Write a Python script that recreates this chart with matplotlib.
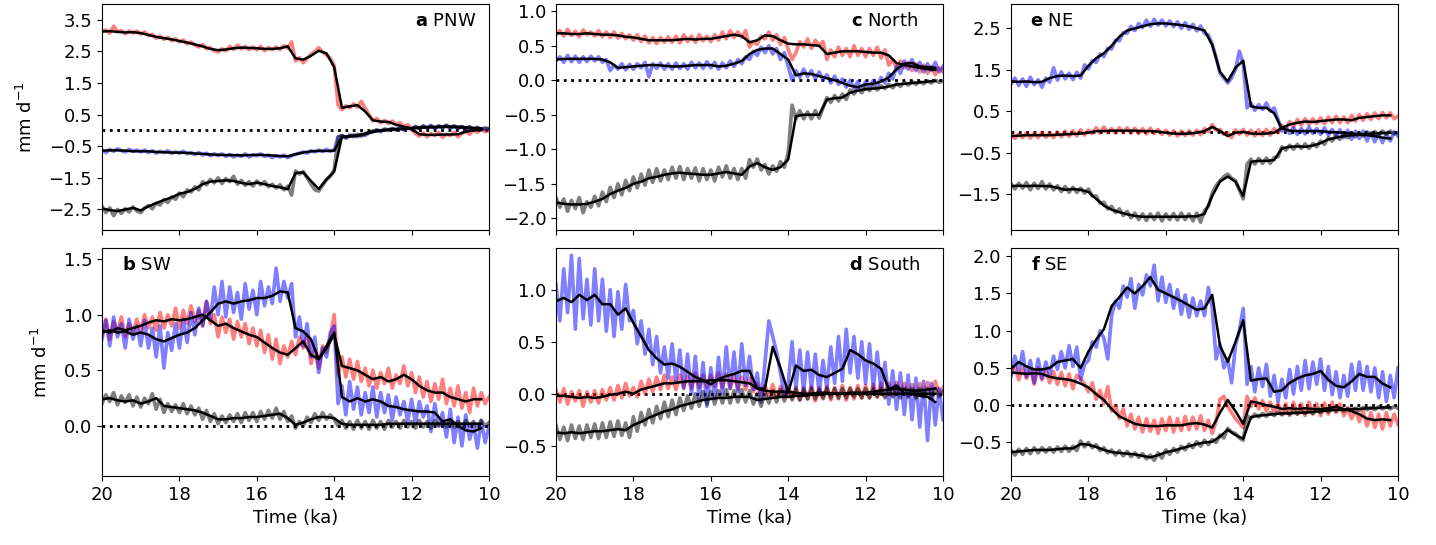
import numpy as np
import matplotlib
matplotlib.use("Agg")
import matplotlib.pyplot as plt

plt.rcParams['font.family'] = ['DejaVu Sans']
plt.rcParams['font.size'] = 13

# time axes (ka)
t_raw = np.linspace(20.0, 10.0, 101)      # 0.1 ka steps
t_smooth = np.linspace(20.0, 10.2, 50)    # 0.2 ka steps

# ---------------- panel a: PNW ----------------
a_red_raw = [3.12, 3.18, 3.08, 3.30, 3.12, 3.16, 3.06, 3.15, 3.08, 3.14,
             3.05, 3.12, 3.00, 3.04, 2.92, 2.98, 2.88, 2.95, 2.84, 2.90,
             2.80, 2.86, 2.74, 2.80, 2.70, 2.64, 2.72, 2.58, 2.62, 2.52,
             2.48, 2.58, 2.52, 2.66, 2.56, 2.70, 2.58, 2.66, 2.56, 2.64,
             2.55, 2.66, 2.52, 2.62, 2.55, 2.64, 2.56, 2.68, 2.60, 2.80,
             2.20, 2.30, 2.14, 2.28, 2.40, 2.50, 2.62, 2.48, 2.38, 2.28,
             2.05, 0.80, 0.66, 0.78, 0.72, 0.84, 0.74, 0.92, 0.70, 0.50,
             0.30, 0.38, 0.24, 0.32, 0.22, 0.30, 0.18, 0.24, 0.12, 0.18,
             0.04, -0.10, -0.18, -0.08, -0.20, -0.10, -0.16, -0.06, -0.22, -0.12,
             -0.16, -0.06, -0.20, -0.10, -0.02, -0.12, 0.02, -0.06, 0.04, -0.04,
             0.00]
a_blue_raw = [-0.62, -0.70, -0.60, -0.66, -0.58, -0.64, -0.68, -0.60, -0.66, -0.62,
              -0.68, -0.62, -0.70, -0.64, -0.72, -0.66, -0.70, -0.64, -0.72, -0.68,
              -0.72, -0.66, -0.74, -0.70, -0.76, -0.70, -0.78, -0.72, -0.80, -0.74,
              -0.80, -0.74, -0.82, -0.76, -0.84, -0.78, -0.82, -0.74, -0.84, -0.78,
              -0.80, -0.74, -0.82, -0.78, -0.86, -0.80, -0.84, -0.78, -0.86, -0.80,
              -0.76, -0.72, -0.68, -0.72, -0.64, -0.68, -0.62, -0.66, -0.60, -0.66,
              -0.62, -0.20, -0.16, -0.24, -0.18, -0.14, -0.20, -0.12, -0.16, -0.08,
              -0.04, 0.00, -0.04, 0.04, 0.00, 0.06, 0.02, 0.08, 0.02, 0.08,
              0.04, 0.12, 0.06, 0.14, 0.08, 0.16, 0.06, 0.14, 0.08, 0.16,
              0.08, 0.14, 0.06, 0.12, 0.04, 0.10, 0.02, 0.08, 0.02, 0.06,
              0.04]
a_gray_raw = [-2.40, -2.60, -2.45, -2.70, -2.50, -2.62, -2.48, -2.58, -2.42, -2.55,
              -2.60, -2.45, -2.38, -2.48, -2.30, -2.36, -2.20, -2.28, -2.10, -2.18,
              -1.98, -2.10, -1.88, -1.95, -1.78, -1.88, -1.62, -1.72, -1.55, -1.66,
              -1.50, -1.68, -1.52, -1.62, -1.45, -1.70, -1.58, -1.74, -1.62, -1.76,
              -1.60, -1.72, -1.62, -1.78, -1.70, -1.82, -1.72, -1.88, -1.76, -2.05,
              -1.28, -1.38, -1.30, -1.50, -1.70, -1.88, -1.92, -1.74, -1.56, -1.45,
              -1.25, -0.22, -0.16, -0.24, -0.14, -0.20, -0.12, -0.18, -0.10, -0.06,
              -0.02, 0.02, -0.02, 0.04, 0.02, 0.06, 0.02, 0.08, 0.04, 0.08,
              0.06, 0.12, 0.06, 0.14, 0.08, 0.14, 0.08, 0.14, 0.10, 0.16,
              0.08, 0.14, 0.08, 0.12, 0.06, 0.12, 0.04, 0.10, 0.04, 0.08,
              0.06]
a_red_smooth = [3.13, 3.14, 3.12, 3.10, 3.11, 3.08, 3.02, 2.96, 2.92, 2.88,
                2.83, 2.78, 2.72, 2.66, 2.58, 2.54, 2.56, 2.60, 2.62, 2.61,
                2.60, 2.58, 2.58, 2.60, 2.66, 2.28, 2.24, 2.36, 2.52, 2.44,
                2.00, 0.72, 0.76, 0.80, 0.60, 0.32, 0.28, 0.27, 0.18, 0.12,
                0.05, -0.12, -0.14, -0.14, -0.13, -0.13, -0.12, -0.04, 0.00, 0.02]
a_blue_smooth = [-0.64, -0.63, -0.63, -0.64, -0.66, -0.66, -0.66, -0.68, -0.69, -0.70,
                 -0.70, -0.71, -0.73, -0.74, -0.76, -0.77, -0.78, -0.78, -0.79, -0.78,
                 -0.77, -0.78, -0.79, -0.81, -0.82, -0.75, -0.70, -0.66, -0.65, -0.65,
                 -0.64, -0.20, -0.19, -0.17, -0.12, -0.05, 0.00, 0.02, 0.04, 0.05,
                 0.07, 0.08, 0.10, 0.10, 0.11, 0.11, 0.10, 0.08, 0.06, 0.05]
a_gray_smooth = [-2.47, -2.52, -2.55, -2.50, -2.45, -2.53, -2.40, -2.30, -2.20, -2.12,
                 -2.00, -1.95, -1.85, -1.70, -1.62, -1.60, -1.58, -1.60, -1.66, -1.70,
                 -1.65, -1.70, -1.76, -1.80, -1.86, -1.35, -1.33, -1.60, -1.85, -1.55,
                 -1.30, -0.20, -0.18, -0.15, -0.10, -0.03, 0.00, 0.02, 0.04, 0.05,
                 0.07, 0.09, 0.10, 0.11, 0.12, 0.12, 0.12, 0.10, 0.08, 0.06]

# ---------------- panel b: SW ----------------
b_red_raw = [0.82, 0.96, 0.78, 0.94, 0.84, 0.98, 0.80, 0.92, 0.84, 0.96,
             0.85, 1.00, 0.88, 0.98, 0.86, 1.02, 0.88, 1.00, 0.90, 1.06,
             0.88, 1.04, 0.92, 1.08, 0.94, 1.04, 0.90, 1.12, 0.92, 1.00,
             0.80, 0.98, 0.84, 0.96, 0.78, 0.94, 0.80, 0.92, 0.74, 0.88,
             0.72, 0.86, 0.66, 0.82, 0.60, 0.78, 0.56, 0.72, 0.62, 0.76,
             0.64, 0.80, 0.70, 0.82, 0.56, 0.68, 0.52, 0.72, 0.66, 0.80,
             1.00, 0.46, 0.62, 0.44, 0.60, 0.42, 0.58, 0.40, 0.52, 0.36,
             0.50, 0.34, 0.48, 0.38, 0.52, 0.34, 0.46, 0.38, 0.54, 0.36,
             0.48, 0.30, 0.44, 0.26, 0.40, 0.22, 0.38, 0.24, 0.42, 0.20,
             0.34, 0.18, 0.36, 0.16, 0.30, 0.12, 0.34, 0.18, 0.30, 0.20,
             0.26]
b_blue_raw = [0.78, 0.95, 0.72, 0.98, 0.80, 0.92, 0.70, 0.96, 0.78, 0.90,
              0.72, 0.95, 0.70, 0.88, 0.62, 0.90, 0.52, 0.84, 0.68, 0.92,
              0.70, 0.96, 0.75, 1.02, 0.82, 1.06, 0.90, 1.12, 0.95, 1.25,
              1.00, 1.30, 0.98, 1.25, 1.02, 1.20, 0.96, 1.28, 1.05, 1.22,
              1.00, 1.30, 1.08, 1.25, 1.10, 1.42, 1.12, 1.30, 1.15, 1.28,
              0.80, 0.98, 0.72, 0.92, 0.62, 0.80, 0.48, 0.70, 0.62, 0.84,
              0.90, 0.20, 0.36, 0.10, 0.40, 0.15, 0.35, 0.10, 0.30, 0.12,
              0.35, 0.08, 0.30, 0.12, 0.28, 0.05, 0.26, 0.10, 0.22, 0.04,
              0.24, 0.02, 0.22, 0.08, 0.18, -0.05, 0.20, 0.00, 0.12, -0.10,
              0.15, -0.15, 0.08, -0.18, 0.10, -0.12, 0.02, -0.20, 0.05, -0.15,
              0.00]
b_gray_raw = [0.20, 0.28, 0.22, 0.30, 0.19, 0.27, 0.21, 0.28, 0.18, 0.26,
              0.17, 0.25, 0.20, 0.29, 0.15, 0.24, 0.12, 0.20, 0.13, 0.19,
              0.12, 0.20, 0.11, 0.18, 0.10, 0.16, 0.06, 0.14, 0.04, 0.11,
              0.02, 0.09, 0.03, 0.10, 0.04, 0.11, 0.03, 0.12, 0.05, 0.12,
              0.04, 0.13, 0.06, 0.14, 0.07, 0.16, 0.06, 0.13, 0.04, 0.09,
              -0.02, 0.04, 0.00, 0.08, 0.03, 0.11, 0.05, 0.12, 0.06, 0.10,
              0.06, 0.00, 0.05, -0.02, 0.04, -0.03, 0.05, -0.02, 0.04, -0.03,
              0.05, -0.02, 0.04, -0.03, 0.05, -0.01, 0.04, -0.02, 0.05, -0.01,
              0.04, -0.02, 0.05, -0.01, 0.04, -0.02, 0.05, 0.00, 0.04, -0.01,
              0.05, -0.01, 0.04, -0.02, 0.05, 0.00, 0.04, -0.01, 0.05, 0.00,
              0.03]
b_red_smooth = [0.86, 0.84, 0.88, 0.86, 0.88, 0.90, 0.93, 0.95, 0.94, 0.96,
                0.95, 0.96, 0.98, 1.00, 0.95, 0.90, 0.92, 0.88, 0.85, 0.82,
                0.80, 0.75, 0.70, 0.66, 0.64, 0.70, 0.76, 0.64, 0.60, 0.70,
                0.82, 0.54, 0.52, 0.50, 0.46, 0.42, 0.44, 0.40, 0.42, 0.46,
                0.42, 0.36, 0.32, 0.30, 0.30, 0.26, 0.24, 0.22, 0.24, 0.24]
b_blue_smooth = [0.84, 0.86, 0.84, 0.85, 0.82, 0.84, 0.82, 0.78, 0.76, 0.79,
                 0.82, 0.84, 0.88, 0.95, 1.02, 1.10, 1.12, 1.10, 1.12, 1.13,
                 1.15, 1.15, 1.17, 1.21, 1.20, 0.88, 0.85, 0.78, 0.60, 0.72,
                 0.84, 0.26, 0.22, 0.25, 0.22, 0.24, 0.22, 0.18, 0.17, 0.15,
                 0.14, 0.13, 0.13, 0.12, 0.04, 0.06, 0.00, -0.04, -0.05, -0.02]
b_gray_smooth = [0.24, 0.25, 0.23, 0.22, 0.23, 0.20, 0.22, 0.25, 0.18, 0.17,
                 0.16, 0.15, 0.14, 0.12, 0.09, 0.06, 0.06, 0.07, 0.07, 0.08,
                 0.08, 0.09, 0.10, 0.11, 0.07, 0.01, 0.03, 0.06, 0.08, 0.08,
                 0.07, 0.02, 0.01, 0.01, 0.01, 0.01, 0.01, 0.02, 0.02, 0.02,
                 0.02, 0.02, 0.02, 0.02, 0.02, 0.02, 0.02, 0.02, 0.02, 0.02]

# ---------------- panel c: North ----------------
c_red_raw = [0.66, 0.72, 0.64, 0.74, 0.65, 0.71, 0.63, 0.73, 0.66, 0.70,
             0.64, 0.72, 0.63, 0.70, 0.62, 0.70, 0.61, 0.68, 0.60, 0.66,
             0.58, 0.66, 0.56, 0.64, 0.54, 0.62, 0.53, 0.62, 0.55, 0.63,
             0.55, 0.64, 0.54, 0.66, 0.56, 0.64, 0.55, 0.66, 0.57, 0.64,
             0.56, 0.66, 0.58, 0.70, 0.60, 0.72, 0.62, 0.70, 0.62, 0.72,
             0.48, 0.56, 0.52, 0.64, 0.60, 0.70, 0.58, 0.66, 0.52, 0.62,
             0.45, 0.30, 0.40, 0.56, 0.48, 0.60, 0.46, 0.58, 0.50, 0.56,
             0.30, 0.44, 0.34, 0.48, 0.36, 0.46, 0.34, 0.50, 0.36, 0.46,
             0.34, 0.46, 0.36, 0.48, 0.32, 0.44, 0.22, 0.30, 0.18, 0.28,
             0.18, 0.26, 0.14, 0.24, 0.12, 0.22, 0.10, 0.20, 0.08, 0.18,
             0.12]
c_blue_raw = [0.28, 0.34, 0.26, 0.36, 0.27, 0.35, 0.26, 0.34, 0.27, 0.35,
              0.28, 0.34, 0.26, 0.30, 0.14, 0.22, 0.16, 0.24, 0.15, 0.23,
              0.16, 0.24, 0.18, 0.26, 0.05, 0.24, 0.17, 0.25, 0.16, 0.24,
              0.16, 0.25, 0.17, 0.24, 0.16, 0.26, 0.18, 0.25, 0.17, 0.27,
              0.18, 0.26, 0.16, 0.25, 0.18, 0.28, 0.20, 0.30, 0.24, 0.34,
              0.30, 0.42, 0.36, 0.48, 0.40, 0.50, 0.38, 0.46, 0.30, 0.40,
              0.20, 0.00, 0.14, 0.04, 0.16, 0.05, 0.14, 0.02, 0.12, 0.00,
              0.08, -0.04, 0.06, -0.06, 0.02, -0.10, 0.00, -0.12, -0.02, -0.14,
              -0.02, -0.10, 0.00, -0.08, 0.04, -0.04, 0.10, 0.02, 0.20, 0.10,
              0.28, 0.16, 0.30, 0.14, 0.26, 0.12, 0.24, 0.14, 0.26, 0.12,
              0.20]
c_gray_raw = [-1.70, -1.84, -1.72, -1.90, -1.74, -1.86, -1.70, -1.92, -1.76, -1.84,
              -1.68, -1.82, -1.62, -1.76, -1.55, -1.70, -1.50, -1.66, -1.45, -1.60,
              -1.40, -1.56, -1.36, -1.52, -1.30, -1.48, -1.28, -1.46, -1.30, -1.44,
              -1.26, -1.42, -1.25, -1.44, -1.28, -1.42, -1.27, -1.46, -1.28, -1.44,
              -1.30, -1.46, -1.26, -1.40, -1.24, -1.42, -1.28, -1.44, -1.28, -1.42,
              -1.15, -1.26, -1.14, -1.30, -1.22, -1.36, -1.24, -1.32, -1.18, -1.26,
              -1.05, -0.36, -0.56, -0.44, -0.56, -0.46, -0.56, -0.44, -0.55, -0.40,
              -0.25, -0.32, -0.22, -0.30, -0.20, -0.28, -0.14, -0.20, -0.12, -0.18,
              -0.10, -0.15, -0.09, -0.14, -0.08, -0.12, -0.06, -0.11, -0.05, -0.09,
              -0.03, -0.07, -0.02, -0.06, -0.02, -0.05, -0.01, -0.04, 0.00, -0.03,
              -0.01]
c_red_smooth = [0.68, 0.68, 0.67, 0.67, 0.68, 0.67, 0.66, 0.66, 0.65, 0.63,
                0.62, 0.60, 0.58, 0.58, 0.58, 0.58, 0.59, 0.60, 0.59, 0.60,
                0.60, 0.62, 0.64, 0.66, 0.64, 0.55, 0.58, 0.65, 0.64, 0.58,
                0.53, 0.52, 0.52, 0.51, 0.50, 0.38, 0.40, 0.42, 0.42, 0.42,
                0.41, 0.40, 0.40, 0.36, 0.25, 0.22, 0.20, 0.18, 0.16, 0.15]
c_blue_smooth = [0.30, 0.31, 0.31, 0.31, 0.31, 0.31, 0.30, 0.26, 0.18, 0.19,
                 0.20, 0.21, 0.22, 0.22, 0.21, 0.20, 0.20, 0.21, 0.22, 0.22,
                 0.22, 0.20, 0.21, 0.24, 0.28, 0.38, 0.44, 0.46, 0.46, 0.38,
                 0.30, 0.07, 0.10, 0.09, 0.06, 0.03, 0.00, -0.04, -0.08, -0.10,
                 -0.06, -0.05, -0.02, 0.04, 0.16, 0.24, 0.25, 0.20, 0.19, 0.18]
c_gray_smooth = [-1.77, -1.79, -1.80, -1.80, -1.79, -1.76, -1.72, -1.65, -1.60, -1.56,
                 -1.50, -1.47, -1.42, -1.40, -1.37, -1.35, -1.34, -1.35, -1.36, -1.37,
                 -1.37, -1.35, -1.33, -1.35, -1.37, -1.25, -1.20, -1.26, -1.30, -1.26,
                 -1.15, -0.52, -0.50, -0.50, -0.50, -0.28, -0.26, -0.25, -0.18, -0.15,
                 -0.13, -0.12, -0.11, -0.09, -0.06, -0.05, -0.04, -0.03, -0.02, -0.01]

# ---------------- panel d: South ----------------
d_red_raw = [0.04, -0.08, 0.05, -0.10, 0.02, -0.07, 0.03, -0.12, 0.02, -0.08,
             0.03, -0.09, 0.04, -0.06, 0.06, -0.06, 0.08, -0.04, 0.10, -0.02,
             0.06, -0.03, 0.12, 0.00, 0.14, 0.02, 0.16, 0.04, 0.18, 0.05,
             0.16, 0.04, 0.18, 0.06, 0.17, 0.05, 0.20, 0.06, 0.18, 0.06,
             0.18, 0.07, 0.20, 0.06, 0.19, 0.05, 0.18, 0.04, 0.16, 0.04,
             0.15, 0.02, 0.10, -0.02, 0.08, -0.03, 0.09, -0.04, 0.07, -0.03,
             0.07, -0.04, 0.06, -0.06, 0.06, -0.05, 0.07, -0.07, 0.06, -0.05,
             0.07, -0.06, 0.06, -0.05, 0.08, -0.06, 0.06, -0.05, 0.08, -0.04,
             0.08, -0.04, 0.09, -0.03, 0.10, -0.02, 0.10, -0.01, 0.11, 0.00,
             0.10, -0.02, 0.09, -0.03, 0.10, -0.02, 0.11, -0.01, 0.12, 0.00,
             0.06]
d_blue_raw = [1.05, 0.70, 1.20, 0.78, 1.33, 0.62, 1.30, 0.72, 1.10, 0.66,
              1.20, 0.70, 1.10, 0.60, 1.00, 0.55, 0.98, 0.62, 1.05, 0.70,
              0.80, 0.48, 0.70, 0.38, 0.62, 0.28, 0.55, 0.20, 0.45, 0.15,
              0.48, 0.12, 0.42, 0.05, 0.38, 0.00, 0.36, -0.05, 0.30, -0.12,
              0.25, -0.05, 0.35, 0.00, 0.45, 0.05, 0.40, 0.02, 0.48, 0.08,
              0.36, 0.04, 0.20, -0.08, 0.30, 0.70, 0.55, 0.40, 0.20, -0.02,
              0.10, 0.50, 0.05, 0.42, 0.02, 0.40, 0.05, 0.38, 0.00, 0.32,
              0.05, 0.45, 0.10, 0.55, 0.12, 0.62, 0.20, 0.55, 0.15, 0.50,
              0.10, 0.48, 0.05, 0.40, 0.02, 0.30, -0.10, 0.22, -0.15, 0.20,
              -0.20, 0.18, -0.25, 0.15, -0.32, 0.12, -0.45, 0.10, -0.30, 0.05,
              -0.25]
d_gray_raw = [-0.30, -0.44, -0.32, -0.45, -0.30, -0.43, -0.31, -0.44, -0.30, -0.42,
              -0.29, -0.43, -0.28, -0.42, -0.27, -0.41, -0.26, -0.40, -0.28, -0.42,
              -0.22, -0.36, -0.18, -0.30, -0.15, -0.28, -0.12, -0.24, -0.08, -0.22,
              -0.06, -0.20, -0.04, -0.16, -0.02, -0.14, 0.00, -0.12, 0.02, -0.10,
              0.02, -0.10, 0.03, -0.09, 0.04, -0.09, 0.03, -0.08, 0.04, -0.08,
              0.03, -0.10, 0.00, -0.12, 0.02, -0.09, 0.03, -0.08, 0.04, -0.07,
              0.04, -0.06, 0.04, -0.06, 0.04, -0.05, 0.05, -0.05, 0.04, -0.04,
              0.05, -0.04, 0.05, -0.04, 0.05, -0.04, 0.05, -0.03, 0.05, -0.04,
              0.05, -0.04, 0.05, -0.03, 0.05, -0.04, 0.05, -0.03, 0.05, -0.04,
              0.05, -0.03, 0.05, -0.04, 0.05, -0.03, 0.05, -0.04, 0.05, -0.03,
              0.02]
d_red_smooth = [-0.02, -0.02, -0.03, -0.04, -0.03, -0.04, -0.03, -0.01, 0.00, 0.02,
                0.00, 0.04, 0.06, 0.08, 0.10, 0.10, 0.11, 0.12, 0.12, 0.12,
                0.13, 0.13, 0.13, 0.12, 0.11, 0.10, 0.05, 0.03, 0.02, 0.02,
                0.02, 0.01, 0.00, 0.00, 0.01, 0.01, 0.00, 0.00, 0.01, 0.01,
                0.01, 0.02, 0.03, 0.04, 0.05, 0.04, 0.03, 0.03, 0.04, 0.05]
d_blue_smooth = [0.89, 0.92, 0.88, 0.95, 0.90, 0.95, 0.86, 0.86, 0.76, 0.82,
                 0.68, 0.55, 0.42, 0.34, 0.28, 0.29, 0.26, 0.21, 0.16, 0.13,
                 0.09, 0.14, 0.17, 0.19, 0.22, 0.22, 0.05, 0.05, 0.45, 0.25,
                 0.01, 0.27, 0.22, 0.23, 0.18, 0.16, 0.20, 0.24, 0.42, 0.38,
                 0.32, 0.29, 0.24, 0.04, 0.08, 0.00, 0.00, -0.02, -0.03, -0.08]
d_gray_smooth = [-0.37, -0.38, -0.37, -0.38, -0.37, -0.36, -0.36, -0.35, -0.34, -0.35,
                 -0.30, -0.27, -0.23, -0.20, -0.17, -0.15, -0.12, -0.10, -0.08, -0.06,
                 -0.05, -0.04, -0.04, -0.03, -0.03, -0.03, -0.06, -0.05, -0.04, -0.03,
                 -0.03, -0.02, -0.02, -0.01, -0.01, 0.00, 0.00, 0.00, 0.00, 0.00,
                 0.00, 0.00, 0.00, 0.00, 0.00, 0.00, 0.00, 0.00, 0.00, 0.00]

# ---------------- panel e: NE ----------------
e_red_raw = [-0.04, -0.16, -0.05, -0.14, -0.02, -0.15, -0.03, -0.14, -0.01, -0.13,
             -0.02, -0.14, 0.00, -0.12, 0.02, -0.11, 0.03, -0.10, 0.05, -0.08,
             0.04, -0.04, 0.10, -0.03, 0.12, -0.02, 0.08, -0.03, 0.10, -0.02,
             0.10, -0.03, 0.09, -0.04, 0.08, -0.05, 0.09, -0.04, 0.06, -0.06,
             0.04, -0.08, 0.03, -0.10, 0.02, -0.09, 0.03, -0.08, 0.04, -0.07,
             0.08, 0.00, 0.18, 0.04, 0.06, -0.06, -0.02, -0.14, 0.05, -0.06,
             0.06, -0.08, 0.04, -0.10, 0.05, -0.09, 0.06, -0.08, 0.08, -0.02,
             0.16, 0.06, 0.25, 0.12, 0.30, 0.16, 0.32, 0.18, 0.32, 0.20,
             0.34, 0.20, 0.36, 0.22, 0.38, 0.22, 0.36, 0.22, 0.40, 0.26,
             0.42, 0.28, 0.44, 0.30, 0.46, 0.32, 0.47, 0.34, 0.46, 0.32,
             0.38]
e_blue_raw = [1.15, 1.30, 1.12, 1.28, 1.10, 1.32, 1.14, 1.26, 1.08, 1.30,
              1.20, 1.55, 1.25, 1.45, 1.28, 1.42, 1.26, 1.44, 1.30, 1.62,
              1.52, 1.72, 1.68, 1.88, 1.82, 2.02, 2.00, 2.22, 2.20, 2.40,
              2.38, 2.55, 2.45, 2.62, 2.52, 2.70, 2.55, 2.72, 2.58, 2.70,
              2.56, 2.68, 2.54, 2.66, 2.50, 2.64, 2.48, 2.60, 2.44, 2.56,
              2.38, 2.34, 2.12, 1.80, 1.42, 1.30, 1.18, 1.30, 1.50, 1.95,
              1.65, 0.58, 0.70, 0.52, 0.66, 0.54, 0.70, 0.50, 0.58, 0.30,
              0.02, 0.12, -0.04, 0.10, -0.06, 0.08, -0.05, 0.12, -0.04, 0.08,
              -0.06, 0.10, -0.08, 0.06, -0.12, 0.05, -0.14, 0.04, -0.18, 0.02,
              -0.16, 0.02, -0.22, -0.02, -0.24, -0.04, -0.26, -0.06, -0.22, 0.00,
              -0.10]
e_gray_raw = [-1.25, -1.38, -1.24, -1.36, -1.22, -1.40, -1.24, -1.37, -1.20, -1.38,
              -1.26, -1.40, -1.30, -1.44, -1.32, -1.46, -1.34, -1.46, -1.36, -1.48,
              -1.38, -1.55, -1.55, -1.72, -1.70, -1.86, -1.80, -1.95, -1.86, -2.02,
              -1.92, -2.08, -1.96, -2.12, -1.98, -2.14, -1.98, -2.12, -1.96, -2.15,
              -1.98, -2.12, -1.97, -2.13, -1.96, -2.12, -1.98, -2.15, -1.96, -2.18,
              -1.90, -1.80, -1.48, -1.30, -1.18, -1.08, -1.02, -1.12, -1.18, -1.40,
              -1.62, -0.78, -0.66, -0.78, -0.64, -0.76, -0.63, -0.76, -0.62, -0.60,
              -0.36, -0.44, -0.32, -0.42, -0.30, -0.40, -0.29, -0.40, -0.28, -0.36,
              -0.22, -0.30, -0.14, -0.22, -0.10, -0.18, -0.06, -0.14, -0.04, -0.12,
              -0.02, -0.10, 0.00, -0.08, 0.01, -0.07, 0.02, -0.06, 0.02, -0.05,
              -0.01]
e_red_smooth = [-0.10, -0.09, -0.08, -0.08, -0.08, -0.08, -0.07, -0.06, -0.05, -0.04,
                -0.02, 0.02, 0.02, 0.03, 0.03, 0.03, 0.03, 0.02, 0.02, 0.01,
                -0.02, -0.04, -0.05, -0.04, -0.02, 0.02, 0.12, 0.02, -0.10, -0.02,
                0.00, -0.04, -0.05, -0.04, -0.02, 0.10, 0.18, 0.22, 0.25, 0.24,
                0.26, 0.28, 0.30, 0.30, 0.28, 0.34, 0.36, 0.38, 0.40, 0.40]
e_blue_smooth = [1.22, 1.21, 1.22, 1.20, 1.21, 1.30, 1.35, 1.36, 1.35, 1.36,
                 1.60, 1.78, 1.90, 2.08, 2.30, 2.45, 2.50, 2.55, 2.60, 2.62,
                 2.62, 2.60, 2.58, 2.55, 2.50, 2.45, 2.10, 1.45, 1.22, 1.55,
                 1.72, 0.62, 0.58, 0.58, 0.45, 0.08, 0.03, 0.02, 0.02, 0.02,
                 0.02, 0.00, -0.01, -0.02, -0.04, -0.06, -0.08, -0.10, -0.14, -0.16]
e_gray_smooth = [-1.31, -1.30, -1.31, -1.30, -1.31, -1.31, -1.35, -1.40, -1.38, -1.40,
                 -1.45, -1.62, -1.78, -1.88, -1.94, -1.99, -2.03, -2.05, -2.05, -2.05,
                 -2.05, -2.05, -2.05, -2.04, -2.04, -1.98, -1.55, -1.20, -1.08, -1.20,
                 -1.55, -0.72, -0.70, -0.70, -0.68, -0.40, -0.36, -0.35, -0.36, -0.33,
                 -0.27, -0.18, -0.14, -0.10, -0.08, -0.06, -0.05, -0.04, -0.03, -0.02]

# ---------------- panel f: SE ----------------
f_red_raw = [0.40, 0.52, 0.34, 0.50, 0.36, 0.48, 0.28, 0.50, 0.34, 0.46,
             0.30, 0.45, 0.28, 0.44, 0.26, 0.42, 0.22, 0.40, 0.36, 0.28,
             0.18, 0.30, 0.08, 0.20, 0.02, 0.25, -0.08, 0.00, -0.18, -0.05,
             -0.28, -0.12, -0.32, -0.16, -0.36, -0.18, -0.35, -0.20, -0.38, -0.18,
             -0.34, -0.16, -0.36, -0.18, -0.34, -0.15, -0.33, -0.16, -0.32, -0.14,
             -0.34, -0.20, -0.38, -0.22, 0.08, 0.12, -0.02, -0.10, -0.18, -0.24,
             -0.30, 0.12, -0.02, 0.10, -0.05, 0.06, -0.08, 0.04, -0.10, 0.02,
             -0.12, 0.02, -0.14, 0.04, -0.12, 0.02, -0.14, 0.04, -0.12, 0.02,
             -0.14, 0.03, -0.12, 0.04, -0.10, 0.02, -0.14, -0.04, -0.18, -0.06,
             -0.22, -0.08, -0.28, -0.10, -0.30, -0.12, -0.32, -0.10, -0.28, -0.12,
             -0.26]
f_blue_raw = [0.40, 0.66, 0.45, 0.72, 0.38, 0.60, 0.30, 0.62, 0.36, 0.58,
              0.40, 0.66, 0.48, 0.72, 0.50, 0.80, 0.52, 0.78, 0.34, 0.55,
              0.60, 0.85, 0.78, 1.00, 0.90, 0.62, 1.20, 1.40, 1.30, 1.60,
              1.45, 1.70, 1.30, 1.62, 1.48, 1.75, 1.60, 1.88, 1.40, 1.72,
              1.38, 1.62, 1.30, 1.55, 1.22, 1.48, 1.18, 1.44, 1.20, 1.40,
              1.20, 1.58, 1.30, 0.62, 0.82, 0.50, 0.62, 0.30, 0.80, 1.00,
              1.30, 0.28, 0.52, 0.18, 0.50, 0.25, 0.55, 0.12, 0.40, 0.05,
              0.35, 0.10, 0.48, 0.15, 0.52, 0.20, 0.60, 0.22, 0.58, 0.28,
              0.62, 0.20, 0.52, 0.14, 0.45, 0.10, 0.40, 0.12, 0.55, 0.20,
              0.58, 0.20, 0.52, 0.18, 0.50, 0.10, 0.45, 0.05, 0.40, 0.10,
              0.50]
f_gray_raw = [-0.60, -0.67, -0.59, -0.66, -0.58, -0.65, -0.57, -0.64, -0.57, -0.63,
              -0.57, -0.63, -0.56, -0.62, -0.55, -0.62, -0.55, -0.61, -0.48, -0.56,
              -0.50, -0.57, -0.53, -0.61, -0.57, -0.64, -0.60, -0.67, -0.61, -0.68,
              -0.62, -0.69, -0.64, -0.70, -0.65, -0.72, -0.67, -0.74, -0.64, -0.71,
              -0.60, -0.66, -0.58, -0.63, -0.55, -0.60, -0.52, -0.57, -0.49, -0.55,
              -0.47, -0.53, -0.46, -0.50, -0.40, -0.44, -0.31, -0.36, -0.38, -0.44,
              -0.47, -0.14, -0.18, -0.12, -0.16, -0.11, -0.15, -0.10, -0.14, -0.09,
              -0.13, -0.09, -0.12, -0.08, -0.12, -0.08, -0.11, -0.07, -0.11, -0.07,
              -0.10, -0.06, -0.09, -0.05, -0.08, -0.05, -0.08, -0.04, -0.07, -0.04,
              -0.07, -0.03, -0.06, -0.03, -0.06, -0.02, -0.05, -0.02, -0.05, -0.02,
              -0.04]
f_red_smooth = [0.44, 0.43, 0.42, 0.43, 0.42, 0.38, 0.36, 0.35, 0.33, 0.29,
                0.24, 0.15, 0.07, -0.05, -0.15, -0.20, -0.25, -0.27, -0.28, -0.28,
                -0.27, -0.27, -0.27, -0.25, -0.24, -0.26, -0.30, -0.10, 0.07, -0.08,
                -0.25, 0.05, 0.03, 0.00, -0.02, -0.05, -0.04, -0.05, -0.04, -0.05,
                -0.05, -0.04, -0.02, -0.05, -0.08, -0.12, -0.18, -0.20, -0.19, -0.20]
f_blue_smooth = [0.49, 0.58, 0.52, 0.48, 0.48, 0.50, 0.58, 0.60, 0.62, 0.50,
                 0.72, 0.88, 1.02, 1.33, 1.45, 1.58, 1.50, 1.60, 1.72, 1.55,
                 1.50, 1.45, 1.40, 1.34, 1.28, 1.30, 1.48, 0.80, 0.58, 0.85,
                 1.14, 0.33, 0.35, 0.36, 0.18, 0.20, 0.30, 0.36, 0.40, 0.42,
                 0.46, 0.34, 0.26, 0.24, 0.32, 0.42, 0.38, 0.38, 0.29, 0.24]
f_gray_smooth = [-0.63, -0.62, -0.61, -0.60, -0.60, -0.60, -0.59, -0.58, -0.58, -0.52,
                 -0.53, -0.56, -0.60, -0.63, -0.64, -0.65, -0.66, -0.68, -0.70, -0.67,
                 -0.63, -0.61, -0.58, -0.55, -0.52, -0.50, -0.49, -0.42, -0.33, -0.40,
                 -0.45, -0.16, -0.14, -0.13, -0.12, -0.11, -0.11, -0.10, -0.10, -0.09,
                 -0.08, -0.07, -0.06, -0.06, -0.05, -0.05, -0.04, -0.04, -0.03, -0.03]

panel_letters = ['a', 'b', 'c', 'd', 'e', 'f']
panel_names = ['PNW', 'SW', 'North', 'South', 'NE', 'SE']
y_ticks = [[3.5, 2.5, 1.5, 0.5, -0.5, -1.5, -2.5],
           [0.0, 0.5, 1.0, 1.5],
           [1.0, 0.5, 0.0, -0.5, -1.0, -1.5, -2.0],
           [1.0, 0.5, 0.0, -0.5],
           [2.5, 1.5, 0.5, -0.5, -1.5],
           [2.0, 1.5, 1.0, 0.5, 0.0, -0.5]]
y_lims = [(-3.15, 4.0), (-0.45, 1.60), (-2.17, 1.105), (-0.79, 1.40), (-2.37, 3.09), (-0.95, 2.11)]
x_ticks = [20, 18, 16, 14, 12, 10]

raw = {
    'a': (a_red_raw, a_blue_raw, a_gray_raw),
    'b': (b_red_raw, b_blue_raw, b_gray_raw),
    'c': (c_red_raw, c_blue_raw, c_gray_raw),
    'd': (d_red_raw, d_blue_raw, d_gray_raw),
    'e': (e_red_raw, e_blue_raw, e_gray_raw),
    'f': (f_red_raw, f_blue_raw, f_gray_raw),
}
smooth = {
    'a': (a_red_smooth, a_blue_smooth, a_gray_smooth),
    'b': (b_red_smooth, b_blue_smooth, b_gray_smooth),
    'c': (c_red_smooth, c_blue_smooth, c_gray_smooth),
    'd': (d_red_smooth, d_blue_smooth, d_gray_smooth),
    'e': (e_red_smooth, e_blue_smooth, e_gray_smooth),
    'f': (f_red_smooth, f_blue_smooth, f_gray_smooth),
}

fig = plt.figure(figsize=(14.36, 5.45), dpi=100)
W = 1436.0
H = 545.0
col_left = [102 / W, 556 / W, 1011 / W]
ax_w = 387 / W
rows = [(1 - 230 / H, (230 - 4) / H), (1 - 476 / H, (476 - 248) / H)]

label_pos = {'a': (0.968, 'right'), 'b': (0.052, 'left'), 'c': (0.935, 'right'),
             'd': (0.941, 'right'), 'e': (0.049, 'left'), 'f': (0.052, 'left')}

raw_colors = ['red', 'blue', 'black']

for i, letter in enumerate(panel_letters):
    col = i // 2
    row = i % 2
    bottom, height = rows[row]
    ax = fig.add_axes([col_left[col], bottom, ax_w, height])
    ax.axhline(0, color='black', ls=':', lw=2.0, zorder=1)
    for series, c in zip(raw[letter], raw_colors):
        ax.plot(t_raw, series, color=c, alpha=0.5, lw=2.6, zorder=2)
    for series in smooth[letter]:
        ax.plot(t_smooth, series, color='black', lw=1.8, zorder=3)
    ax.set_xlim(20, 10)
    ax.set_ylim(*y_lims[i])
    ax.set_xticks(x_ticks)
    ax.set_yticks(y_ticks[i])
    ax.set_yticklabels(['\u2212' + f'{abs(v):.1f}' if v < 0 else f'{v:.1f}' for v in y_ticks[i]])
    if row == 1:
        ax.set_xticklabels([str(v) for v in x_ticks])
        ax.set_xlabel('Time (ka)')
    else:
        ax.set_xticklabels([])
    if col == 0:
        ax.set_ylabel('mm d$^{-1}$', labelpad=9)
    xpos, ha = label_pos[letter]
    ax.text(xpos, 0.925, r'$\bf{' + letter + '}$ ' + panel_names[i], transform=ax.transAxes,
            ha=ha, va='center', fontsize=13)

fig.savefig('out.png', dpi=100)
